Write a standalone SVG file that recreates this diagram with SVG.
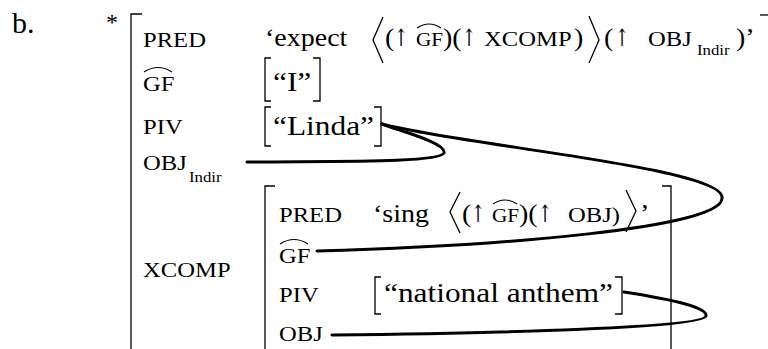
<svg xmlns="http://www.w3.org/2000/svg" width="768" height="349" viewBox="0 0 768 349">
<style>
text{font-family:"Liberation Serif","Times New Roman",serif;fill:#000}
.lab{font-size:22px}
.val{font-size:25px}
.ar{font-family:"DejaVu Serif","DejaVu Sans",serif;font-size:24px;fill:#000}
.q{font-size:28px}
.sc{font-size:19px}
.sub{font-size:15px}
.br{fill:none;stroke:#000;stroke-width:1.3}
.hat{fill:none;stroke:#000;stroke-width:1.1}
.cv{fill:none;stroke:#000;stroke-width:3;stroke-linecap:round}
</style>
<rect width="768" height="349" fill="#fff"/>
<g id="example-label">
<text x="12" y="33" style="font-size:30px">b.</text>
<text x="106" y="30" style="font-size:24px">*</text>
</g>
<g id="outer-fstructure">
<polyline class="br" points="142,14 131,14 131,349"/>
<line class="br" x1="760" y1="15" x2="768" y2="15"/>
<text class="lab" transform="translate(143,47) scale(1.12,1)">PRED</text>
<text class="val" transform="translate(265,46) scale(1.12,1)">‘expect</text>
<polyline class="br" points="383,17 373,40 383,63"/>
<text class="val" transform="translate(385,46) scale(1.12,1)">(</text>
<text class="ar" transform="translate(394,46) scale(0.7,1)">↑</text>
<text class="sc" transform="translate(416,46) scale(1.12,1)">GF</text>
<path class="hat" d="M417,28 Q429,20 441,28"/>
<text class="val" transform="translate(443,46) scale(1.12,1)">)(</text>
<text class="ar" transform="translate(462,46) scale(0.7,1)">↑</text>
<text class="lab" transform="translate(484,46) scale(1.12,1)">XCOMP</text>
<text class="val" transform="translate(574,46) scale(1.12,1)">)</text>
<polyline class="br" points="589,16 599,40 589,63"/>
<text class="val" transform="translate(604,46) scale(1.12,1)">(</text>
<text class="ar" transform="translate(615,46) scale(0.7,1)">↑</text>
<text class="lab" transform="translate(648,46) scale(1.12,1)">OBJ</text>
<text class="sub" transform="translate(697,55) scale(1.12,1)">Indir</text>
<text class="val" transform="translate(736,46) scale(1.12,1)">)’</text>
<text class="lab" transform="translate(143,91) scale(1.12,1)">GF</text>
<path class="hat" d="M144,72 Q158,63 172,72"/>
<polyline class="br" points="271,58 265,58 265,101 271,101"/>
<text class="q" transform="translate(273,91) scale(1.12,1)">“I”</text>
<polyline class="br" points="313,58 320,58 320,101 313,101"/>
<text class="lab" transform="translate(143,134) scale(1.12,1)">PIV</text>
<polyline class="br" points="271,107 265,107 265,146 271,146"/>
<text class="q" transform="translate(273,135) scale(1.12,1)">“Linda”</text>
<polyline class="br" points="374,107 381,107 381,146 374,146"/>
<text class="lab" transform="translate(143,170) scale(1.12,1)">OBJ</text>
<text class="sub" transform="translate(189,182) scale(1.12,1)">Indir</text>
<text class="lab" transform="translate(143,277) scale(1.12,1)">XCOMP</text>
</g>
<g id="inner-fstructure">
<polyline class="br" points="275,186 265,186 265,349"/>
<polyline class="br" points="662,186 671,186 671,349"/>
<text class="lab" transform="translate(279,222) scale(1.12,1)">PRED</text>
<text class="val" transform="translate(373,222) scale(1.12,1)">‘sing</text>
<polyline class="br" points="460,192 450,212 460,233"/>
<text class="val" transform="translate(462,222) scale(1.12,1)">(</text>
<text class="ar" transform="translate(471,222) scale(0.7,1)">↑</text>
<text class="sc" transform="translate(492,222) scale(1.12,1)">GF</text>
<path class="hat" d="M493,204 Q505,196 517,204"/>
<text class="val" transform="translate(519,222) scale(1.12,1)">)(</text>
<text class="ar" transform="translate(538,222) scale(0.7,1)">↑</text>
<text class="lab" transform="translate(568,222) scale(1.12,1)">OBJ)</text>
<polyline class="br" points="626,190 636,211 626,232"/>
<text class="val" transform="translate(640,222) scale(1.12,1)">’</text>
<text class="lab" transform="translate(279,263) scale(1.12,1)">GF</text>
<path class="hat" d="M280,244 Q294,235 308,244"/>
<text class="lab" transform="translate(279,302) scale(1.12,1)">PIV</text>
<polyline class="br" points="381,277 375,277 375,314 381,314"/>
<text class="q" transform="translate(384,302) scale(1.12,1)">“national anthem”</text>
<polyline class="br" points="615,277 622,277 622,314 615,314"/>
<text class="lab" transform="translate(279,341) scale(1.12,1)">OBJ</text>
</g>
<g id="connectors">
<path class="cv" d="M382,124 C460,145 726,168 722,198 C723,228 500,246 317,251"/>
<path class="cv" d="M247,162 C330,161 440,163 444,153 C447,143 400,131 382,124"/>
<path class="cv" d="M624,292 C676,300 708,308 706,316 C704,328 500,333 332,335"/>
</g>
</svg>
